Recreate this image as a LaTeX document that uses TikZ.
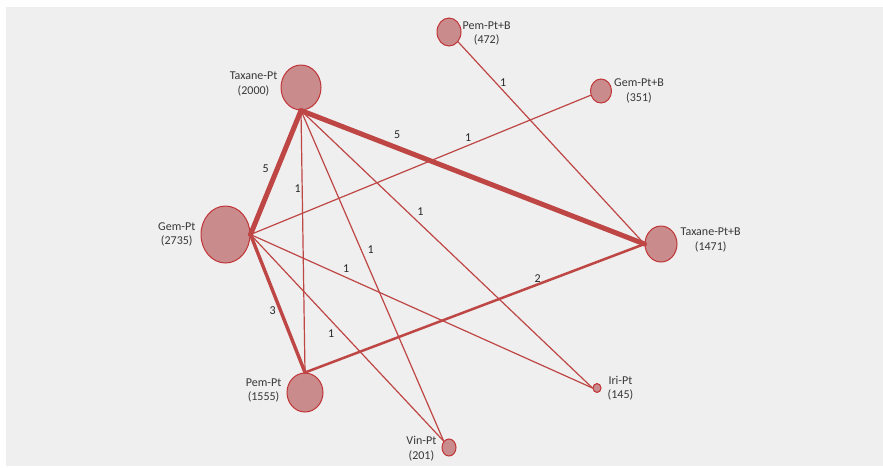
\documentclass[tikz,border=0pt]{standalone}
\usepackage{fontspec}
\setmainfont{Carlito}
\usetikzlibrary{positioning,shapes.geometric}
\definecolor{panelgray}{RGB}{239,239,239}
\definecolor{armfill}{RGB}{201,139,139}
\definecolor{armdark}{RGB}{192,52,56}
\definecolor{linkred}{RGB}{190,70,68}
\definecolor{tagtext}{RGB}{55,55,55}
\tikzset{
  arm/.style={
    ellipse, draw=armdark, fill=armfill,
    line width=1pt, inner sep=0pt
  },
  tag/.style={
    align=center, inner sep=0pt, text=tagtext,
    font=\fontsize{12}{14.5}\selectfont
  },
  cnt/.style={inner sep=1pt, text=black!85, font=\fontsize{12}{14}\selectfont},
  link/.style={draw=linkred, line cap=round},
  w1/.style={link, line width=1.2pt},
  w2/.style={link, line width=2.5pt},
  w3/.style={link, line width=3.4pt},
  w5/.style={link, line width=5pt}
}

\begin{document}
\begin{tikzpicture}[x=1pt,y=-1pt]

  % panel
  \fill[panelgray] (6,7) rectangle (883,466);
  \useasboundingbox (0,0) rectangle (883,467);

  % treatments
  \node[arm, minimum width=40pt, minimum height=45pt] (tax) at (301,87.5) {};
  \node[arm, minimum width=24pt, minimum height=28pt] (pempb) at (449,32) {};
  \node[arm, minimum width=21pt, minimum height=24pt] (gempb) at (601,91) {};
  \node[arm, minimum width=49pt, minimum height=57pt] (gem) at (225.5,234.5) {};
  \node[arm, minimum width=32pt, minimum height=36pt] (taxpb) at (661,244) {};
  \node[arm, minimum width=36pt, minimum height=39pt] (pem) at (305,392.5) {};
  \node[arm, minimum width=14pt, minimum height=17pt] (vin) at (449,447.5) {};
  \node[arm, minimum width=8pt, minimum height=9pt] (iri) at (597,388) {};

  % names and sizes
  \node[tag, left=3pt of tax, yshift=3.5pt] (taxtag) {Taxane-Pt\\(2000)};
  \node[tag, right=1pt of pempb, yshift=-1.5pt] (pempbtag) {Pem-Pt+B\\(472)};
  \node[tag, right=2pt of gempb] (gempbtag) {Gem-Pt+B\\(351)};
  \node[tag, left=5pt of gem] (gemtag) {Gem-Pt\\(2735)};
  \node[tag, right=3pt of taxpb, yshift=4pt] (taxpbtag) {Taxane-Pt+B\\(1471)};
  \node[tag, left=5pt of pem, yshift=2pt] (pemtag) {Pem-Pt\\(1555)};
  \node[tag, left=5pt of vin, yshift=-1pt] (vintag) {Vin-Pt\\(201)};
  \node[tag, right=6pt of iri] (iritag) {Iri-Pt\\(145)};

  % comparisons
  \draw[w5] (tax.south) -- node[cnt, pos=0.47, left=5pt] {5} (gem.east);
  \draw[w5] (tax.south) -- node[cnt, pos=0.28, above=6pt] {5} (taxpb.west);
  \draw[w3] (gem.east) -- node[cnt, pos=0.55, left=2pt] {3} (pem.north);
  \draw[w2] (pem.north) -- node[cnt, pos=0.685, above] {2} (taxpb.west);
  \draw[w1] (tax.south) -- node[cnt, pos=0.3, left] {1} (pem.north);
  \draw[w1] (tax.south) -- node[cnt, pos=0.42, right=5pt] {1} (vin.north west);
  \draw[w1] (tax.south) -- node[cnt, pos=0.41, above=7pt] {1} (iri.west);
  \draw[w1] (gem.east) -- node[cnt, pos=0.64, above=2.5pt] {1} (gempb);
  \draw[w1] (gem.east) -- node[cnt, pos=0.28, above=3pt] {1} (iri.west);
  \draw[w1] (gem.east) -- node[cnt, pos=0.478, left=7pt] {1} (vin.north west);
  \draw[w1] (pempb) -- node[cnt, pos=0.2, right=3pt] {1} (taxpb.west);

\end{tikzpicture}
\end{document}
